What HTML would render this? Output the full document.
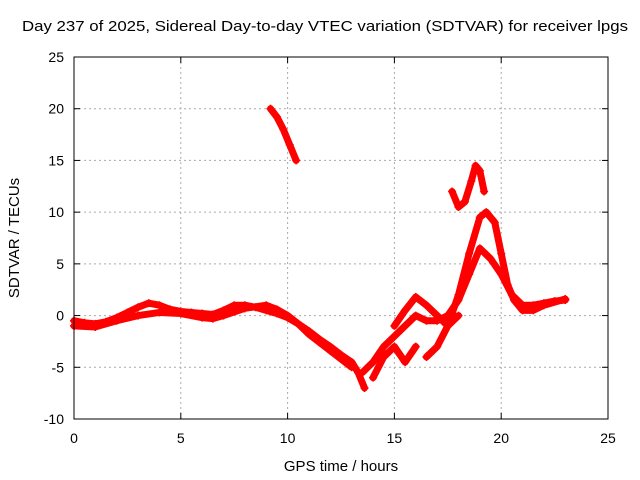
<!DOCTYPE html>
<html><head><meta charset="utf-8"><style>
body{margin:0;background:#fff}
svg{display:block;font-family:"Liberation Sans",sans-serif}
</style></head><body>
<svg id="c" width="640" height="480">
<text x="22" y="31" font-size="15" textLength="606" lengthAdjust="spacingAndGlyphs">Day 237 of 2025, Sidereal Day-to-day VTEC variation (SDTVAR) for receiver lpgs</text>
<text x="341" y="471" text-anchor="middle" font-size="15">GPS time / hours</text>
<text transform="translate(19,238) rotate(-90)" text-anchor="middle" font-size="15">SDTVAR / TECUs</text>
<g id="grid"></g><g id="series"></g>
<rect x="74" y="57" width="534" height="362" fill="none" stroke="#000"/>
</svg>
<script>
const xTicks=[0,5,10,15,20,25];
const yTicks=[-10,-5,0,5,10,15,20,25];
const trackA=[[0,-0.5],[0.5,-0.7],[1,-0.8],[1.5,-0.6],[2,-0.2],[2.5,0.3],[3,0.8],[3.5,1.2],[4,1.0],[4.5,0.6],[5,0.4],[5.5,0.3],[6,0.2],[6.5,0.1],[7,0.5],[7.5,1.0],[8,1.0],[8.5,0.8],[9,0.5],[9.5,0.2],[10,-0.2],[10.5,-0.8],[11,-1.5],[11.5,-2.3],[12,-3],[12.5,-3.8],[13,-4.5],[13.3,-5.5],[13.6,-7]];
const trackA2=[[0,-1],[1,-1.1],[2,-0.5],[3,0],[4,0.3],[5,0.2],[6,-0.2],[6.5,-0.3],[7,0],[8,0.7],[9,1.0],[9.5,0.6],[10,0],[10.5,-0.8],[11,-1.8],[11.5,-2.6],[12,-3.4],[12.5,-4.2],[13,-5]];
const trackB=[[9.2,20],[9.5,19.2],[9.8,18],[10.1,16.5],[10.4,15]];
const trackC=[[13.5,-5.5],[14,-4.5],[14.5,-3],[15,-2],[15.5,-1],[16,0],[16.5,-0.5],[17,-0.5],[17.5,0],[18,1.5],[18.5,4],[19,6.5],[19.5,5.5],[20,4],[20.5,2],[21,1],[21.5,1],[22,1.2],[22.5,1.4],[23,1.5]];
const trackD=[[15,-1],[15.5,0.5],[16,1.8],[16.5,1],[17,0],[17.5,-1],[18,0]];
const trackE=[[16.5,-4],[17,-3],[17.5,-1],[18,2],[18.5,6],[19,9.5],[19.3,10],[19.7,9],[20,6],[20.3,3],[20.6,1.5],[21,0.5],[21.5,0.5],[22,1],[23,1.6]];
const trackF=[[17.7,12],[18,10.5],[18.3,11],[18.6,13],[18.8,14.5],[19,14],[19.2,12]];
const trackG=[[14,-6],[14.5,-4],[15,-3],[15.5,-4.5],[16,-3]];
const tracks=[trackA,trackA2,trackB,trackC,trackD,trackE,trackF,trackG];
const X=v=>74+v*(534/25), Y=v=>419-(v+10)*(362/35);
const NS="http://www.w3.org/2000/svg";
const g=document.getElementById('grid'), s=document.getElementById('series');
function mk(t,a,p){const e=document.createElementNS(NS,t);for(const k in a)e.setAttribute(k,a[k]);p.appendChild(e);return e;}
xTicks.forEach(v=>{
 if(v>0&&v<25){const l=mk('line',{x1:X(v),x2:X(v),y1:57,y2:419,stroke:'#aaa','stroke-dasharray':'2,3'},g);
 
 }
 mk('line',{x1:X(v),x2:X(v),y1:419,y2:413,stroke:'#000'},g);
 mk('line',{x1:X(v),x2:X(v),y1:57,y2:63,stroke:'#000'},g);
 const t=mk('text',{x:X(v),y:443,'text-anchor':'middle','font-size':14},g);t.textContent=v;
 
 
});
yTicks.forEach(v=>{
 if(v>-10&&v<25){const l=mk('line',{x1:74,x2:608,y1:Y(v),y2:Y(v),stroke:'#aaa','stroke-dasharray':'2,3'},g);
 
 }
 mk('line',{x1:74,x2:80,y1:Y(v),y2:Y(v),stroke:'#000'},g);
 mk('line',{x1:608,x2:602,y1:Y(v),y2:Y(v),stroke:'#000'},g);
 const t=mk('text',{x:64,y:Y(v)+5,'text-anchor':'end','font-size':14},g);t.textContent=v;
 
 
});
tracks.forEach(tr=>{
 const p=mk('polyline',{points:tr.map(d=>X(d[0])+','+Y(d[1])).join(' '),fill:'none',stroke:'#f00','stroke-width':7,'stroke-linejoin':'round','stroke-linecap':'round'},s);
 
 
 tr.forEach(d=>{
  const m=mk('path',{d:`M${X(d[0])-4},${Y(d[1])}h8M${X(d[0])},${Y(d[1])-4}v8`,stroke:'#f00','stroke-width':1.5},s);
  
  
 });
});
</script>
</body></html>
